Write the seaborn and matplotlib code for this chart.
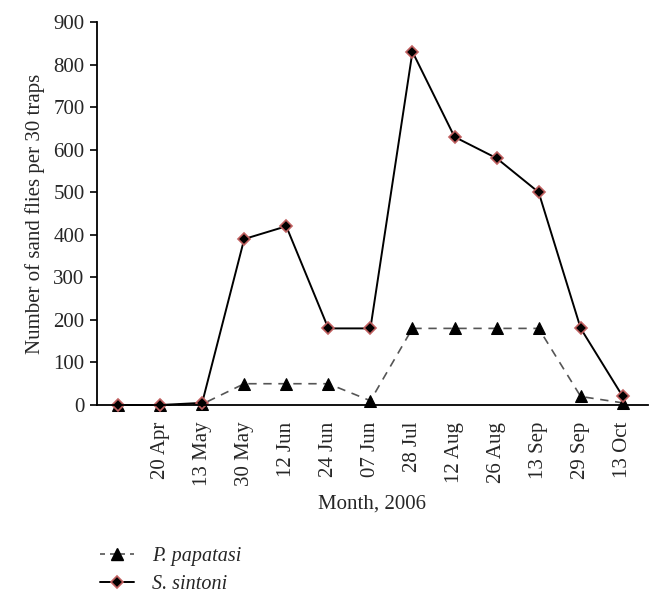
import matplotlib
matplotlib.use("Agg")
import matplotlib.pyplot as plt
import seaborn as sns
import pandas as pd
import numpy as np
from matplotlib.lines import Line2D

dates = ["", "20 Apr", "13 May", "30 May", "12 Jun", "24 Jun", "07 Jun",
         "28 Jul", "12 Aug", "26 Aug", "13 Sep", "29 Sep", "13 Oct"]
p_papatasi = [0, 0, 2, 50, 50, 50, 10, 180, 180, 180, 180, 20, 5]
s_sintoni = [0, 0, 5, 390, 420, 180, 180, 830, 630, 580, 500, 180, 20]

sns.set_theme(style="white")
plt.rcParams['font.family'] = ['Liberation Serif', 'DejaVu Serif']

fig = plt.figure(figsize=(6.57, 5.99), dpi=100)
ax = fig.add_axes([97/657, 1-405/599, (648-97)/657, (405-22)/599])

df = pd.DataFrame({"x": np.arange(len(dates)), "P": p_papatasi, "S": s_sintoni})

sns.lineplot(data=df, x="x", y="P", ax=ax, color="#555555", linestyle=(0, (5, 4)),
             linewidth=1.2, marker="^", markersize=8, markerfacecolor="black",
             markeredgecolor="black", clip_on=False)
sns.lineplot(data=df, x="x", y="S", ax=ax, color="black", linewidth=1.4,
             marker="D", markersize=6.5, markerfacecolor="black",
             markeredgecolor="#c06060", markeredgewidth=1.2, clip_on=False)

ax.set_xlim(-0.5, 12.6)
ax.set_ylim(0, 900)
ax.set_yticks(range(0, 901, 100))
ax.set_xticks(range(len(dates)))
ax.set_xticklabels(dates, rotation=90, fontsize=15)
ax.tick_params(axis='y', labelsize=15, left=True, length=5, width=1.2, color='black', pad=4)
ax.tick_params(axis='x', bottom=False, pad=6)
for s in ['top', 'right']:
    ax.spines[s].set_visible(False)
for s in ['left', 'bottom']:
    ax.spines[s].set_color('black')
    ax.spines[s].set_linewidth(1.3)
ax.set_xlabel("Month, 2006", fontsize=15, labelpad=6)
ax.set_ylabel("Number of sand flies per 30 traps", fontsize=15, labelpad=6)

handles = [
    Line2D([], [], color="#555555", linestyle=(0, (3, 3)), linewidth=1.2, marker="^",
           markersize=8, markerfacecolor="black", markeredgecolor="black"),
    Line2D([], [], color="black", linewidth=1.4, marker="D", markersize=6.5,
           markerfacecolor="black", markeredgecolor="#c06060", markeredgewidth=1.2),
]
fig.legend(handles, ["P. papatasi", "S. sintoni"], loc="upper left",
           bbox_to_anchor=(92/657, 1-539/599), frameon=False,
           prop={'style': 'italic', 'size': 14.5}, handlelength=1.7,
           handletextpad=0.9, labelspacing=0.45, borderaxespad=0)

fig.savefig("out.png", dpi=100)
